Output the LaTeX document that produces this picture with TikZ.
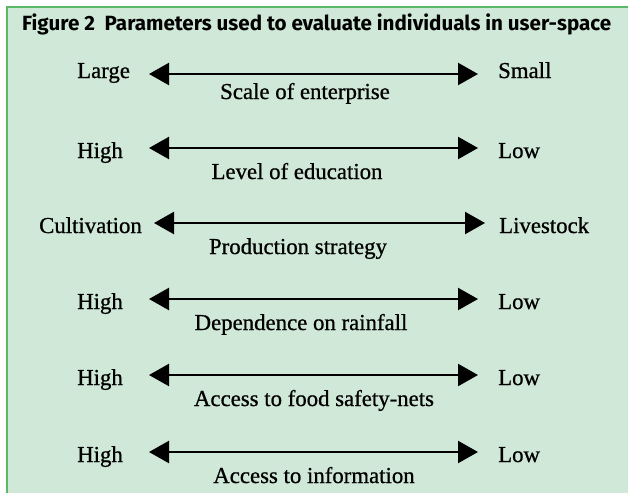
\documentclass[tikz,border=0pt]{standalone}
\usepackage{fontspec}
\setmainfont{Liberation Serif}
\newfontfamily\polefont[FakeBold=0.8]{Liberation Serif}
\newfontfamily\titlefont{Fira Sans}
\usetikzlibrary{arrows.meta}

\definecolor{panelfill}{RGB}{208,232,216}
\definecolor{panelline}{RGB}{92,184,104}

\tikzset{
  pole/.style={inner sep=0pt, font=\polefont\fontsize{22.8}{26}\selectfont},
  axis/.style={line width=2.3pt,
    {Triangle[length=20pt,width=22pt]}-{Triangle[length=20pt,width=22pt]}},
}

\begin{document}
\begin{tikzpicture}[x=1pt, y=-1pt]
  \useasboundingbox (0,0) rectangle (628,493);
  \fill[panelfill] (7,7) rectangle (628,493);
  \draw[panelline, line width=2pt] (7,493) -- (7,7) -- (628,7);
  \node[anchor=base west, inner sep=0pt,
        font=\titlefont\bfseries\fontsize{20.6}{24}\selectfont] (title) at (22,30)
        {Figure 2\ \ Parameters used to evaluate individuals in user-space};
  % one row per parameter: poles left and right, name below the arrow
  \foreach \n/\y/\a/\b/\lx/\rx/\dy/\lft/\rgt/\cx/\txt in {
      1/74/149/478/77/498/4/Large/Small/305/Scale of enterprise,
      2/148/149/478/77/498/10/High/Low/297/Level of education,
      3/223/154/485/39/499/10/Cultivation/Livestock/298/Production strategy,
      4/299/149/478/77/498/10/High/Low/301/Dependence on rainfall,
      5/375/149/478/77/498/10/High/Low/314/Access to food safety-nets,
      6/452/149/478/77/498/10/High/Low/314/Access to information}
  {
    \coordinate (s\n) at (\a,\y);
    \coordinate (e\n) at (\b,\y);
    \draw[axis] (s\n) -- (e\n);
    \node[pole, anchor=base west] (lo\n) at (\lx,\y+\dy) {\lft};
    \node[pole, anchor=base west] (hi\n) at (\rx,\y+\dy) {\rgt};
    \node[pole, anchor=base] (name\n) at (\cx,\y+\dy+21) {\txt};
  }
\end{tikzpicture}
\end{document}
